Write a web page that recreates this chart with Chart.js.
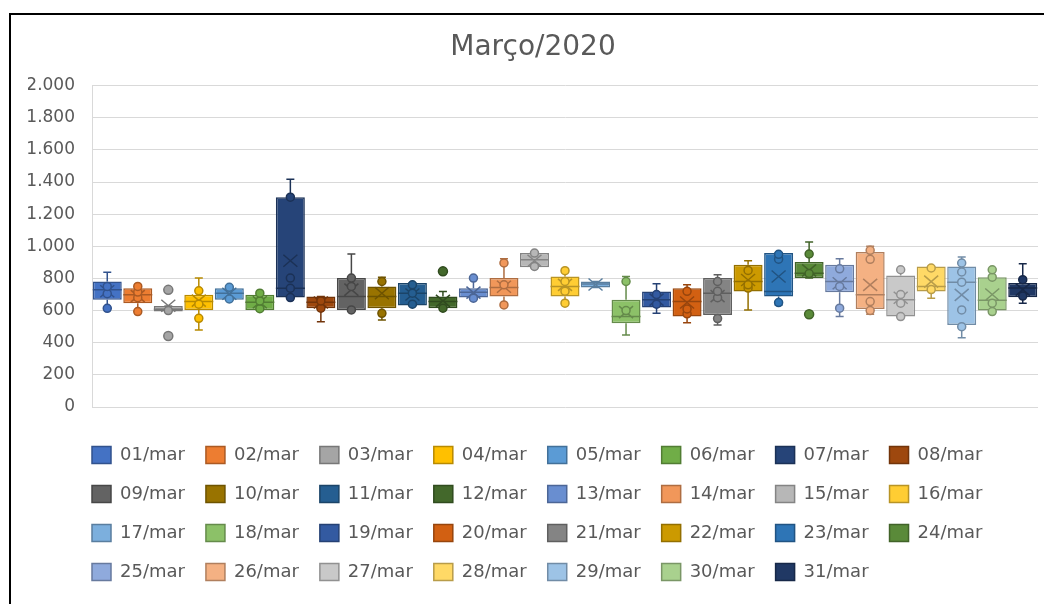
<!DOCTYPE html>
<html lang="pt-BR">
<head>
<meta charset="utf-8">
<title>Março/2020</title>
<script src="https://cdn.jsdelivr.net/npm/chart.js@4.4.1/dist/chart.umd.min.js"></script>
<style>
  html, body { margin: 0; padding: 0; background: #fff; }
  #wrap { position: relative; width: 1044px; height: 604px; overflow: hidden; }
  #wrap canvas { position: absolute; left: 0; top: 0; }
  #frame { position: absolute; left: 9px; top: 13px; right: -10px; bottom: -10px;
           border-left: 2px solid #000; border-top: 2px solid #000; pointer-events: none; }
</style>
</head>
<body>
<div id="wrap">
  <canvas id="boxChart" width="1044" height="604"></canvas>
  <div id="frame"></div>
</div>
<script>
var days = ['01/mar','02/mar','03/mar','04/mar','05/mar','06/mar','07/mar','08/mar',
            '09/mar','10/mar','11/mar','12/mar','13/mar','14/mar','15/mar','16/mar',
            '17/mar','18/mar','19/mar','20/mar','21/mar','22/mar','23/mar','24/mar',
            '25/mar','26/mar','27/mar','28/mar','29/mar','30/mar','31/mar'];

// five-number summary + mean per day
var lowWhisker  = [614,594,594,479,667,604,681,531,604,542,631,615,677,635,869,646,744,448,583,525,510,604,635,802,563,577,563,677,431,594,646];
var q1          = [668,646,594,604,667,604,681,615,604,615,631,615,681,688,869,688,744,521,619,563,573,719,688,802,714,610,563,719,510,600,683];
var median      = [729,698,608,656,708,652,739,652,688,688,708,656,714,744,917,750,765,563,667,656,708,781,719,833,781,698,667,750,777,665,740];
var q3          = [781,739,629,698,739,698,1306,688,802,750,771,688,739,802,958,812,781,667,719,739,802,885,958,902,885,965,819,875,875,808,771];
var highWhisker = [839,750,629,802,739,698,1417,688,952,808,771,719,802,923,958,848,781,812,767,760,823,910,958,1027,923,1000,854,875,933,860,892];
var mean        = [720,690,630,662,705,652,910,650,730,708,700,660,712,748,910,760,762,590,668,650,690,790,812,850,770,760,680,780,698,700,730];

var innerPoints = [[614,705,750],[594,680,715,750],[600],[552,640,723],[672,745],[612,660,708],
  [681,739,802,1306],[615,660],[604,750,802],[583,781],[640,708,760],[615],[677,802],[635,760,896],
  [875,958],[646,720,781,848],[],[600,781],[640,700],[580,610,720],[550,680,720,781],[740,760,850],
  [650,920,950],[830,952],[615,750,860],[600,656,919,975],[563,646,700,854],[731,865],
  [500,604,777,840,896],[594,646,808,854],[690,792]];
var outliers = [[],[],[442,729],[],[],[],[],[],[],[],[],[844],[],[],[],[],[],[],[],[],[],[],[],[577],[],[],[],[],[],[],[]];

var yTicks = [0,200,400,600,800,1000,1200,1400,1600,1800,2000];

var colors = ['#4472C4','#ED7D31','#A5A5A5','#FFC000','#5B9BD5','#70AD47','#264478','#9E480E',
              '#636363','#997300','#255E91','#43682B','#698ED0','#F1975A','#B7B7B7','#FFCD33',
              '#7CAFDD','#8CC168','#335AA1','#D26012','#848484','#CC9A00','#2E75B6','#5A8A39',
              '#8FAADC','#F4B183','#C9C9C9','#FFD966','#9DC3E6','#A9D18E','#203864'];

function shade(hex, k) {
  var n = parseInt(hex.slice(1), 16);
  return 'rgb(' + Math.round((n >> 16) * k) + ',' + Math.round(((n >> 8) & 255) * k) + ',' + Math.round((n & 255) * k) + ')';
}

function milhar(v) {
  return String(v).replace(/\B(?=(\d{3})+(?!\d))/g, '.');
}

Chart.defaults.font.family = 'DejaVu Sans';
Chart.defaults.color = '#595959';

// whiskers, median, mean and points on top of the floating bars
var boxWhisker = {
  id: 'boxWhisker',
  afterDatasetsDraw: function(chart) {
    var ctx = chart.ctx, y = chart.scales.y;
    chart.data.datasets.forEach(function(ds, i) {
      var bar = chart.getDatasetMeta(i).data[0];
      var x = bar.x, half = bar.width / 2;
      var hi = y.getPixelForValue(highWhisker[i]), lo = y.getPixelForValue(lowWhisker[i]);
      var md = y.getPixelForValue(median[i]), mn = y.getPixelForValue(mean[i]);
      ctx.save();
      ctx.strokeStyle = ds.borderColor;
      ctx.fillStyle = ds.backgroundColor;
      ctx.lineWidth = 1.5;
      ctx.beginPath();
      ctx.moveTo(x, y.getPixelForValue(q3[i])); ctx.lineTo(x, hi);
      ctx.moveTo(x - 4, hi); ctx.lineTo(x + 4, hi);
      ctx.moveTo(x, y.getPixelForValue(q1[i])); ctx.lineTo(x, lo);
      ctx.moveTo(x - 4, lo); ctx.lineTo(x + 4, lo);
      ctx.moveTo(x - half, md); ctx.lineTo(x + half, md);
      ctx.moveTo(x - 7, mn - 6); ctx.lineTo(x + 7, mn + 6);
      ctx.moveTo(x + 7, mn - 6); ctx.lineTo(x - 7, mn + 6);
      ctx.stroke();
      innerPoints[i].forEach(function(v) {
        ctx.beginPath();
        ctx.arc(x, y.getPixelForValue(v), 4, 0, Math.PI * 2);
        ctx.fill(); ctx.stroke();
      });
      outliers[i].forEach(function(v) {
        ctx.beginPath();
        ctx.arc(x, y.getPixelForValue(v), 4.5, 0, Math.PI * 2);
        ctx.fill(); ctx.stroke();
      });
      ctx.restore();
    });
  }
};

// legend rows start under the plot's left edge
var legendIndent = {
  id: 'legendIndent',
  afterLayout: function(chart) {
    chart.legend.left = chart.chartArea.left - chart.options.plugins.legend.labels.padding;
  }
};

var datasets = days.map(function(d, i) {
  return {
    label: d,
    data: [[q1[i], q3[i]]],
    backgroundColor: colors[i],
    borderColor: shade(colors[i], 0.72),
    borderWidth: 1.5,
    borderSkipped: false,
    categoryPercentage: 1,
    barPercentage: 0.95
  };
});

new Chart(document.getElementById('boxChart'), {
  type: 'bar',
  data: { labels: [''], datasets: datasets },
  plugins: [boxWhisker, legendIndent],
  options: {
    responsive: false,
    animation: false,
    devicePixelRatio: 1,
    layout: { padding: { left: 28, right: 6, top: 0, bottom: 13 } },
    scales: {
      x: {
        grid: { display: false },
        border: { display: false },
        ticks: { display: false },
        afterFit: function(s) { s.height = 18; }
      },
      y: {
        min: 0,
        max: 2000,
        afterFit: function(s) { s.width = 64; },
        afterBuildTicks: function(s) { s.ticks = yTicks.map(function(v) { return { value: v }; }); },
        grid: { color: '#D9D9D9', lineWidth: 1, drawTicks: false },
        border: { display: true, color: '#D9D9D9', width: 1 },
        ticks: { padding: 17, color: '#595959', font: { size: 17 }, callback: function(v) { return milhar(v); } }
      }
    },
    plugins: {
      title: {
        display: true,
        text: 'Março/2020',
        color: '#595959',
        font: { size: 28, weight: 'normal' },
        padding: { top: 31, bottom: 21 }
      },
      legend: {
        position: 'bottom',
        align: 'start',
        labels: { boxWidth: 19, boxHeight: 17, padding: 21, color: '#595959', font: { size: 18 } }
      },
      tooltip: { enabled: false }
    }
  }
});
</script>
</body>
</html>
